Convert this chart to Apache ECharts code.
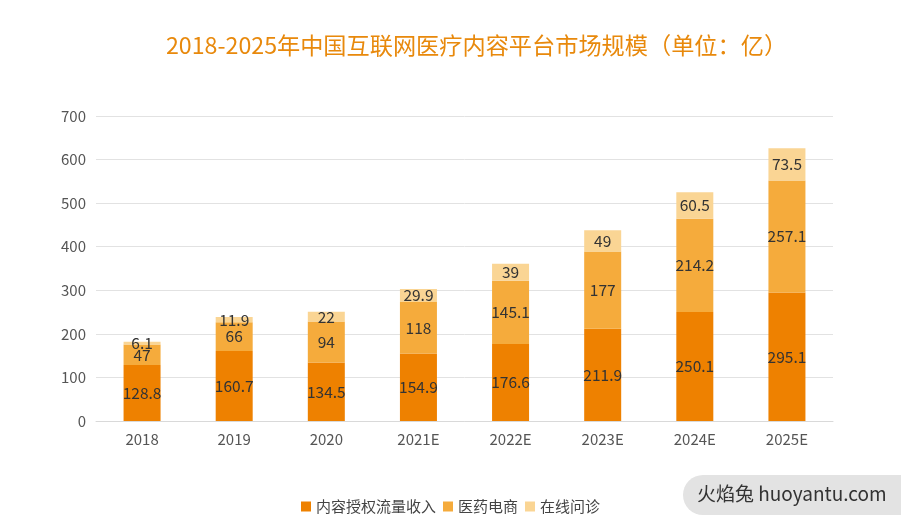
<!DOCTYPE html>
<html><head><meta charset="utf-8">
<script src="https://cdn.jsdelivr.net/npm/echarts@6/dist/echarts.min.js"></script>
<style>html,body{margin:0;padding:0;background:#fff}#c{width:901px;height:530px}</style>
</head><body><div id="c"></div>
<script>
const categories = ['2018','2019','2020','2021E','2022E','2023E','2024E','2025E'];
const seriesNames = ['内容授权流量收入','医药电商','在线问诊'];
const licensing = [128.8,160.7,134.5,154.9,176.6,211.9,250.1,295.1];
const pharmacy = [47,66,94,118,145.1,177,214.2,257.1];
const consult = [6.1,11.9,22,29.9,39,49,60.5,73.5];
const yTicks = [0,100,200,300,400,500,600,700];
const colors = ['#EE8100','#F5AB3C','#FAD594'];
const font = '"Noto Sans CJK SC","Noto Sans",sans-serif';
const chart = echarts.init(document.getElementById('c'));
const mk = (name, data, color) => ({
  name, type:'bar', stack:'total', data, barWidth:37,
  itemStyle:{color},
  label:{show:true, position:'inside', color:'#333', fontSize:15.5, fontFamily:font}
});
chart.setOption({
  animation:false,
  textStyle:{fontFamily:font},
  title:{text:'2018-2025年中国互联网医疗内容平台市场规模（单位：亿）', left:161, top:29,
    textStyle:{color:'#E8890C', fontSize:23.2, fontWeight:'normal', fontFamily:font}},
  legend:{bottom:11, left:'center', itemWidth:10, itemHeight:10, itemGap:7,
    textStyle:{color:'#444', fontSize:15}, icon:'rect'},
  grid:{left:96, right:68, top:116, bottom:109},
  xAxis:{type:'category', data:categories,
    axisLine:{lineStyle:{color:'#d9d9d9'}}, axisTick:{show:false},
    axisLabel:{color:'#555', fontSize:15, margin:11}},
  yAxis:{type:'value', min:yTicks[0], max:yTicks[yTicks.length-1], interval:100,
    axisLine:{show:false}, axisTick:{show:false},
    splitLine:{lineStyle:{color:'#e2e2e2'}},
    axisLabel:{color:'#555', fontSize:15, margin:10}},
  series:[mk(seriesNames[0],licensing,colors[0]), mk(seriesNames[1],pharmacy,colors[1]), mk(seriesNames[2],consult,colors[2])],
  graphic:[{type:'group', left:683, top:475, children:[
    {type:'rect', shape:{x:0,y:0,width:240,height:40,r:20}, style:{fill:'#e3e3e3'}},
    {type:'text', x:14, y:9, style:{text:'火焰兔 huoyantu.com', fill:'#333', fontSize:19, fontFamily:font}}
  ]}]
});
</script></body></html>
